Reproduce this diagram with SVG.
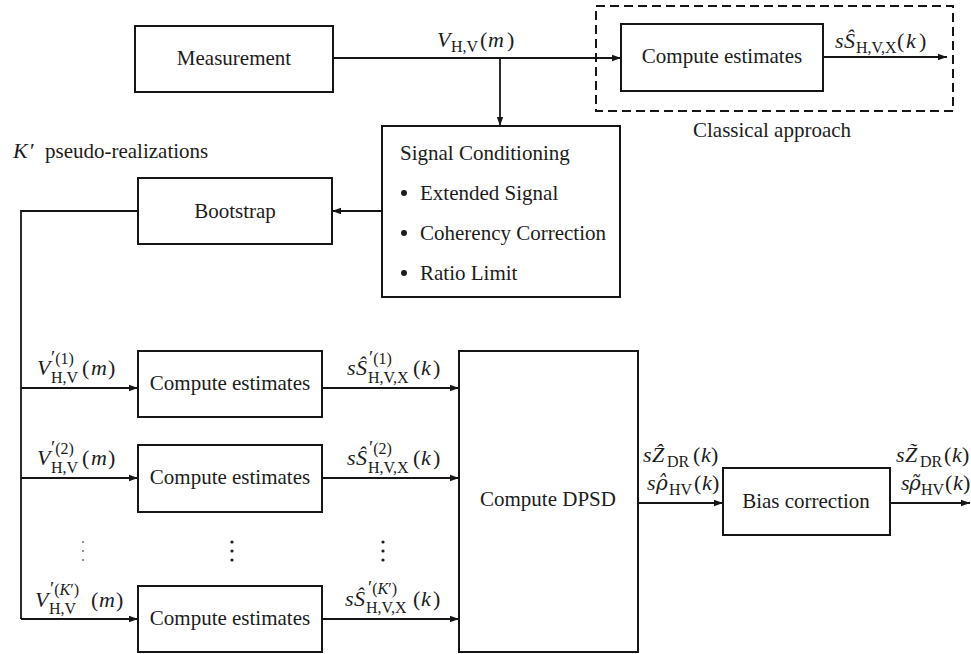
<svg xmlns="http://www.w3.org/2000/svg" width="971" height="654" viewBox="0 0 971 654">
<defs>
<style>
.box{fill:#fff;stroke:#161616;stroke-width:2}
.dash{fill:none;stroke:#161616;stroke-width:2;stroke-dasharray:9 5}
.ln{fill:none;stroke:#161616;stroke-width:1.8}
.t{font-family:"Liberation Serif","DejaVu Serif",serif;font-size:21px;fill:#1c1c1c}
.m{font-family:"Liberation Serif","DejaVu Serif",serif;font-size:22px;fill:#1c1c1c}
.i{font-style:italic}
.s{font-size:16px;font-style:normal}
.dv{font-family:"DejaVu Serif",serif;font-size:20px}
.dot{fill:#1c1c1c}
</style>
<marker id="ah" viewBox="0 0 10 10" refX="10" refY="5" markerWidth="9" markerHeight="9" markerUnits="userSpaceOnUse" orient="auto">
<path d="M0,1.5 L10,5 L0,8.5 z" fill="#161616"/>
</marker>
</defs>
<rect width="971" height="654" fill="#fff"/>

<g id="connectors">
<path class="ln" d="M333,58 H621" marker-end="url(#ah)"/>
<path class="ln" d="M500,58 V126" marker-end="url(#ah)"/>
<path class="ln" d="M823,57 H947" marker-end="url(#ah)"/>
<path class="ln" d="M382,211 H332" marker-end="url(#ah)"/>
<path class="ln" d="M138,211 H21 V619"/>
<path class="ln" d="M21,388 H138" marker-end="url(#ah)"/>
<path class="ln" d="M21,478 H138" marker-end="url(#ah)"/>
<path class="ln" d="M21,619 H138" marker-end="url(#ah)"/>
<path class="ln" d="M322,388 H459" marker-end="url(#ah)"/>
<path class="ln" d="M322,478 H459" marker-end="url(#ah)"/>
<path class="ln" d="M322,619 H459" marker-end="url(#ah)"/>
<path class="ln" d="M638,503 H723" marker-end="url(#ah)"/>
<path class="ln" d="M890,503 H970" marker-end="url(#ah)"/>
</g>

<g id="classical">
<rect class="dash" x="596" y="6" width="357" height="105"/>
<text class="t" x="693" y="137">Classical approach</text>
</g>

<g id="measurement">
<rect class="box" x="135" y="26" width="198" height="66"/>
<text class="t" x="234" y="65" text-anchor="middle">Measurement</text>
</g>

<g id="compute-top">
<rect class="box" x="621" y="24" width="202" height="67"/>
<text class="t" x="722" y="63" text-anchor="middle">Compute estimates</text>
</g>

<g id="signal-conditioning">
<rect class="box" x="382" y="126" width="238" height="171"/>
<text class="t" x="400" y="160">Signal Conditioning</text>
<circle class="dot" cx="404" cy="193" r="3"/>
<text class="t" x="420" y="200">Extended Signal</text>
<circle class="dot" cx="404" cy="233" r="3"/>
<text class="t" x="420" y="240">Coherency Correction</text>
<circle class="dot" cx="404" cy="273" r="3"/>
<text class="t" x="420" y="280">Ratio Limit</text>
</g>

<g id="bootstrap">
<rect class="box" x="138" y="178" width="194" height="66"/>
<text class="t" x="235" y="218" text-anchor="middle">Bootstrap</text>
</g>

<g id="compute-1">
<rect class="box" x="138" y="351" width="184" height="66"/>
<text class="t" x="230" y="390" text-anchor="middle">Compute estimates</text>
</g>
<g id="compute-2">
<rect class="box" x="138" y="445" width="184" height="67"/>
<text class="t" x="230" y="484" text-anchor="middle">Compute estimates</text>
</g>
<g id="compute-k">
<rect class="box" x="138" y="586" width="184" height="66"/>
<text class="t" x="230" y="625" text-anchor="middle">Compute estimates</text>
</g>

<g id="compute-dpsd">
<rect class="box" x="459" y="351" width="179" height="301"/>
<text class="t" x="548" y="506" text-anchor="middle">Compute DPSD</text>
</g>

<g id="bias-correction">
<rect class="box" x="723" y="468" width="167" height="67"/>
<text class="t" x="806" y="508" text-anchor="middle">Bias correction</text>
</g>

<g id="labels">
<text class="t" y="158"><tspan class="i" x="13" font-size="22">K</tspan><tspan x="30" font-size="22">′</tspan><tspan x="45">pseudo-realizations</tspan></text>

<text class="m"><tspan class="i" x="437" y="47">V</tspan><tspan class="s" x="451" y="52">H,V</tspan><tspan x="480" y="47">(</tspan><tspan class="i" x="488" y="47">m</tspan><tspan x="507" y="47">)</tspan></text>

<text class="m"><tspan class="i" x="835" y="48">s</tspan><tspan class="i" x="844" y="48">Ŝ</tspan><tspan class="s" x="856" y="53" font-size="15">H,V,X</tspan><tspan x="897" y="48">(</tspan><tspan class="i" x="906" y="48">k</tspan><tspan x="919" y="48">)</tspan></text>

<text class="m"><tspan class="i" x="37" y="375">V</tspan><tspan class="s" x="51" y="364"><tspan font-size="19">′</tspan>(1)</tspan><tspan class="s" x="51" y="383">H,V</tspan><tspan x="82" y="375">(</tspan><tspan class="i" x="91" y="375">m</tspan><tspan x="108" y="375">)</tspan></text>
<text class="m"><tspan class="i" x="347" y="375">s</tspan><tspan class="i" x="356" y="375">Ŝ</tspan><tspan class="s" x="369" y="364"><tspan font-size="19">′</tspan>(1)</tspan><tspan class="s" x="368" y="383">H,V,X</tspan><tspan x="413" y="375">(</tspan><tspan class="i" x="421" y="375">k</tspan><tspan x="433" y="375">)</tspan></text>

<text class="m"><tspan class="i" x="37" y="465">V</tspan><tspan class="s" x="51" y="454"><tspan font-size="19">′</tspan>(2)</tspan><tspan class="s" x="51" y="473">H,V</tspan><tspan x="82" y="465">(</tspan><tspan class="i" x="91" y="465">m</tspan><tspan x="108" y="465">)</tspan></text>
<text class="m"><tspan class="i" x="347" y="465">s</tspan><tspan class="i" x="356" y="465">Ŝ</tspan><tspan class="s" x="369" y="454"><tspan font-size="19">′</tspan>(2)</tspan><tspan class="s" x="368" y="473">H,V,X</tspan><tspan x="413" y="465">(</tspan><tspan class="i" x="421" y="465">k</tspan><tspan x="433" y="465">)</tspan></text>

<text class="m"><tspan class="i" x="35" y="607">V</tspan><tspan class="s" x="50" y="595"><tspan font-size="19">′</tspan>(<tspan class="i">K</tspan>′)</tspan><tspan class="s" x="49" y="614">H,V</tspan><tspan x="91" y="607">(</tspan><tspan class="i" x="99" y="607">m</tspan><tspan x="116" y="607">)</tspan></text>
<text class="m"><tspan class="i" x="345" y="606">s</tspan><tspan class="i" x="354" y="606">Ŝ</tspan><tspan class="s" x="368" y="594"><tspan font-size="19">′</tspan>(<tspan class="i">K</tspan>′)</tspan><tspan class="s" x="366" y="613">H,V,X</tspan><tspan x="413" y="606">(</tspan><tspan class="i" x="421" y="606">k</tspan><tspan x="433" y="606">)</tspan></text>

<text class="m"><tspan class="i" x="643" y="462">s</tspan><tspan class="i" x="652" y="462">Ẑ</tspan><tspan class="s" x="667" y="467">DR</tspan><tspan x="693" y="462">(</tspan><tspan class="i" x="701" y="462">k</tspan><tspan x="711" y="462">)</tspan></text>
<text class="m"><tspan class="i" x="647" y="490">s</tspan><tspan class="i dv" x="656" y="490">ρ̂</tspan><tspan class="s" x="669" y="495">HV</tspan><tspan x="694" y="490">(</tspan><tspan class="i" x="702" y="490">k</tspan><tspan x="712" y="490">)</tspan></text>

<text class="m"><tspan class="i" x="896" y="462">s</tspan><tspan class="i" x="905" y="462">Z̃</tspan><tspan class="s" x="920" y="467">DR</tspan><tspan x="944" y="462">(</tspan><tspan class="i" x="952" y="462">k</tspan><tspan x="962" y="462">)</tspan></text>
<text class="m"><tspan class="i" x="901" y="490">s</tspan><tspan class="i dv" x="909" y="490">ρ̃</tspan><tspan class="s" x="921" y="495">HV</tspan><tspan x="945" y="490">(</tspan><tspan class="i" x="953" y="490">k</tspan><tspan x="963" y="490">)</tspan></text>
</g>

<g id="ellipsis">
<circle cx="83" cy="542" r="1.1" fill="#777"/>
<circle cx="83" cy="551" r="1.1" fill="#777"/>
<circle cx="83" cy="560" r="1.1" fill="#777"/>
<circle class="dot" cx="232" cy="542" r="1.6"/>
<circle class="dot" cx="232" cy="551" r="1.6"/>
<circle class="dot" cx="232" cy="560" r="1.6"/>
<circle class="dot" cx="383" cy="542" r="1.6"/>
<circle class="dot" cx="383" cy="551" r="1.6"/>
<circle class="dot" cx="383" cy="560" r="1.6"/>
</g>
</svg>
